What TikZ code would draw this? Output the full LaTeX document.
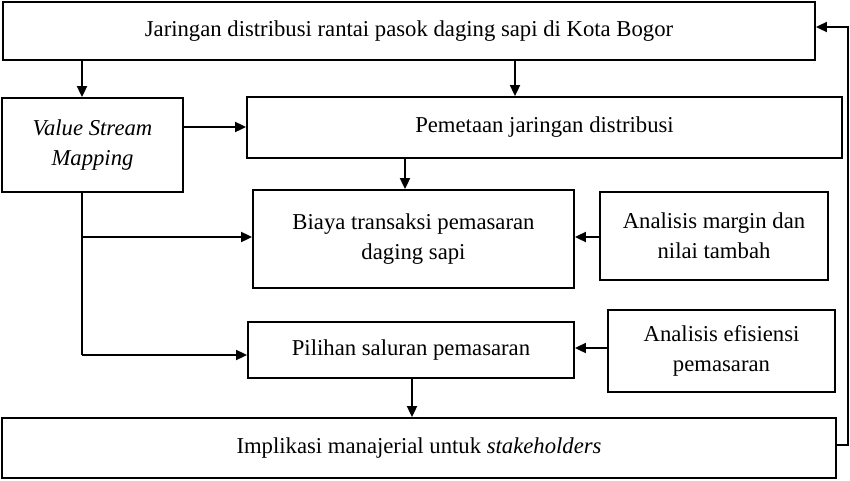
\documentclass[tikz,border=0pt]{standalone}
\usepackage{fontspec}
\setmainfont{Liberation Serif}
\usetikzlibrary{arrows.meta}
\begin{document}
\begin{tikzpicture}[x=1pt,y=-1pt,
  box/.style={draw,line width=1.8pt,align=center,inner sep=0pt,font=\fontsize{22.7}{30}\selectfont},
  arr/.style={line width=1.8pt,-{Triangle[length=11pt,width=10pt]}}]
\useasboundingbox (0,0) rectangle (850,480);
\node[box,minimum width=812,minimum height=58] (top) at (409,31) {Jaringan distribusi rantai pasok daging sapi di Kota Bogor};
\node[box,minimum width=181,minimum height=94] (vsm) at (92.5,145) {\itshape Value Stream\\\itshape Mapping};
\node[box,minimum width=595,minimum height=61] (pem) at (544.5,127.5) {Pemetaan jaringan distribusi};
\node[box,minimum width=321,minimum height=98] (bia) at (413.5,239) {Biaya transaksi pemasaran\\daging sapi};
\node[box,minimum width=228,minimum height=88] (mar) at (714,236) {Analisis margin dan\\nilai tambah};
\node[box,minimum width=326,minimum height=56] (pil) at (411,350) {Pilihan saluran pemasaran};
\node[box,minimum width=227,minimum height=82] (efi) at (721.5,351) {Analisis efisiensi\\pemasaran};
\node[box,minimum width=834,minimum height=60] (imp) at (419,448) {Implikasi manajerial untuk \textit{stakeholders}};
\draw[arr] (82,60) -- (vsm.north -| 82,0);
\draw[arr] (515,60) -- (pem.north -| 515,0);
\draw[arr] (vsm.east |- 0,127) -- (pem.west |- 0,127);
\draw[arr] (405,158) -- (bia.north -| 405,0);
\draw[line width=1.8pt] (82,192) -- (82,355);
\draw[arr] (82,237) -- (bia.west |- 0,237);
\draw[arr] (82,355) -- (pil.west |- 0,355);
\draw[arr] (mar.west |- 0,237) -- (bia.east |- 0,237);
\draw[arr] (efi.west |- 0,348) -- (pil.east |- 0,348);
\draw[arr] (412,378) -- (imp.north -| 412,0);
\draw[arr] (imp.east |- 0,445) -- (848,445) -- (848,27) -- (top.east |- 0,27);
\end{tikzpicture}
\end{document}
